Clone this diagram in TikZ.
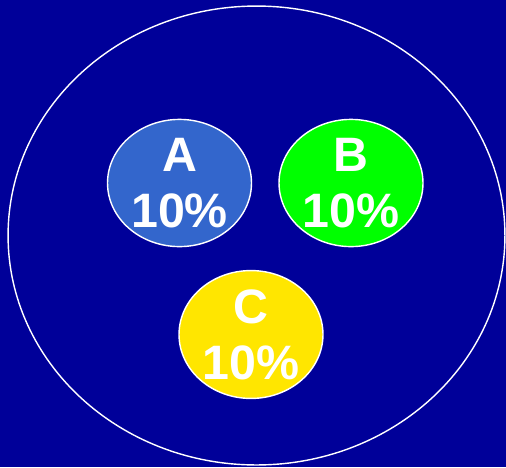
\documentclass[tikz,border=0pt]{standalone}
\usepackage{fontspec}
\setmainfont{Liberation Sans}
\usetikzlibrary{shapes.geometric}
\definecolor{navy}{HTML}{000099}
\definecolor{setA}{HTML}{3366CC}
\definecolor{setB}{HTML}{00FF00}
\definecolor{setC}{HTML}{FFE600}
\tikzset{
  space/.style = {ellipse, draw=white, thick, minimum width=9.94cm, minimum height=9.18cm,
                  inner sep=0pt},
  event/.style = {ellipse, draw=white, thick, minimum width=2.88cm, minimum height=2.52cm,
                  inner sep=0pt, text=white, align=center,
                  font=\fontsize{27.5}{32}\selectfont\bfseries},
}
\begin{document}
\begin{tikzpicture}[x=0.02cm,y=-0.02cm]
  \fill[navy] (0,0) rectangle (506,467);
  \useasboundingbox (0,0) rectangle (506,467);
  \node[space] (S) at (256.5,235.5) {};
  %
  \node[event,fill=setA] (A) at (179.5,183) {A\\10\%};
  \node[event,fill=setB] (B) at (351,183) {B\\10\%};
  \node[event,fill=setC] (C) at (251,334.5) {C\\10\%};
\end{tikzpicture}
\end{document}
